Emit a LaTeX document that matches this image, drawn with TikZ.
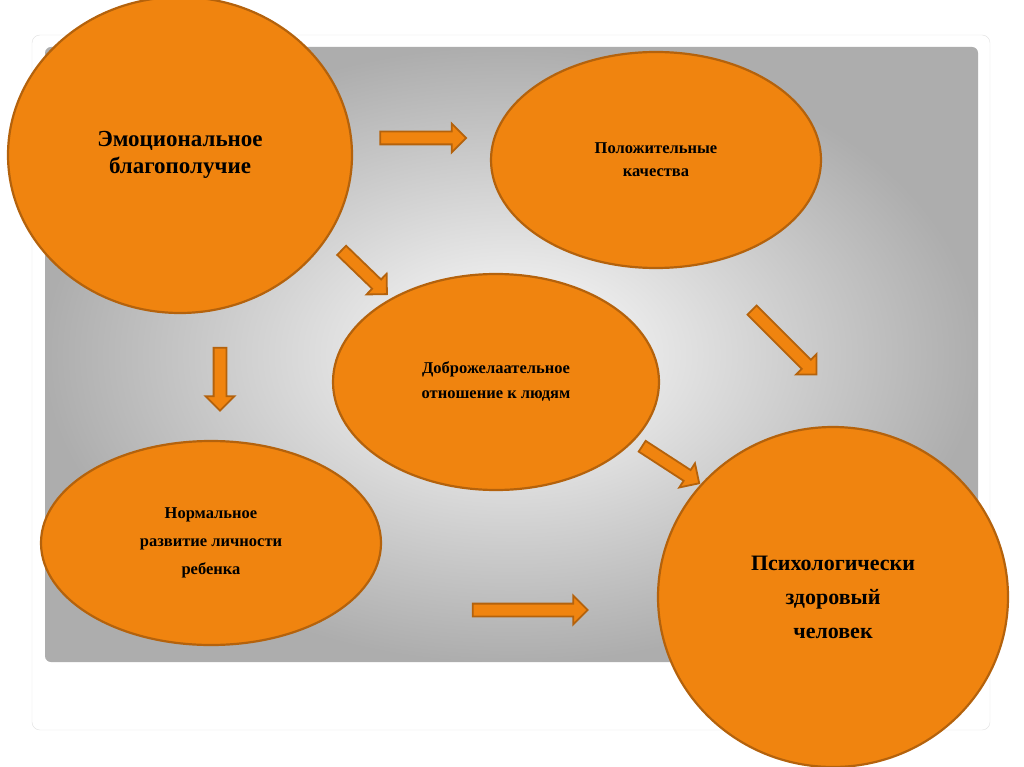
\documentclass[tikz,border=0pt]{standalone}
\usepackage{fontspec}
\setmainfont{Liberation Serif}
\usetikzlibrary{shapes.arrows,shapes.geometric}
\definecolor{org}{HTML}{F0840F}
\definecolor{orgd}{HTML}{B4620C}
\begin{document}
\begin{tikzpicture}[x=1pt,y=-1pt,
  blob/.style={ellipse,draw=orgd,line width=2.2pt,fill=org,align=center,font=\bfseries,inner sep=0pt},
  barrow/.style={single arrow,draw=orgd,line width=1.8pt,fill=org,inner sep=0pt,text height=11pt,text depth=0pt,single arrow head extend=8pt,single arrow head indent=0pt}]
\useasboundingbox (0,0) rectangle (1024,767);
\fill[white] (0,0) rectangle (1024,767);
\fill[white,draw=black!12,rounded corners=8pt] (32,35) rectangle (990,730);
\shade[inner color=white,middle color=black!10,outer color=black!32,rounded corners=6pt] (45,47) rectangle (978,662);
\node[blob,minimum width=344pt,minimum height=316pt,font=\bfseries\fontsize{23}{27}\selectfont] (e1) at (180,155) {Эмоциональное\\благополучие};
\node[blob,minimum width=330pt,minimum height=216pt,font=\bfseries\fontsize{16.5}{23}\selectfont] (e2) at (656,160) {Положительные\\качества};
\node[blob,minimum width=326pt,minimum height=216pt,font=\bfseries\fontsize{16.5}{25}\selectfont] (e3) at (496,382) {Доброжелаательное\\отношение к людям};
\node[blob,minimum width=340pt,minimum height=204pt,font=\bfseries\fontsize{16.5}{28}\selectfont] (e4) at (211,543) {Нормальное\\развитие личности\\ребенка};
\node[blob,minimum width=350pt,minimum height=340pt,font=\bfseries\fontsize{22}{34}\selectfont] (e5) at (833,597) {Психологически\\здоровый\\человек};
\node[barrow,minimum height=86pt] (a1) at (420,138) {};
\node[barrow,minimum height=63pt,rotate=-44] (a2) at (362,270) {};
\node[barrow,minimum height=63pt,rotate=-90] (a3) at (220,376) {};
\node[barrow,minimum height=91pt,rotate=-45] (a4) at (782,340) {};
\node[barrow,minimum height=68pt,rotate=-33] (a5) at (668,463) {};
\node[barrow,minimum height=115pt] (a6) at (527,610) {};
\end{tikzpicture}
\end{document}
